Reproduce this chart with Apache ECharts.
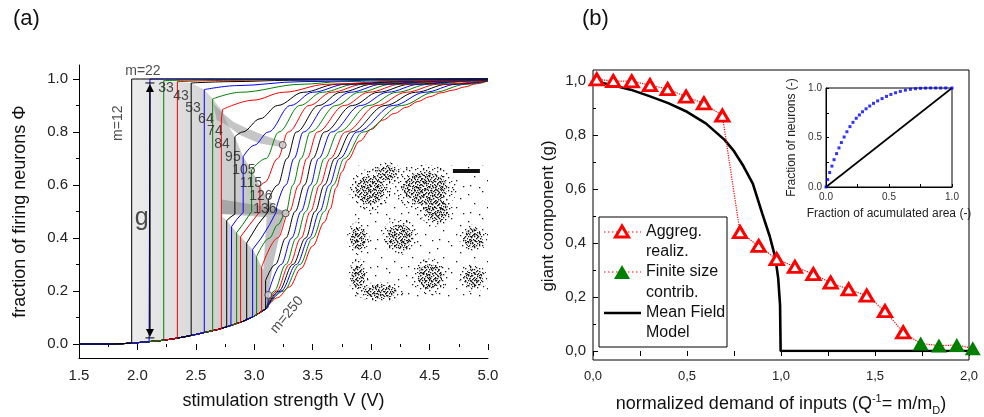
<!DOCTYPE html>
<html>
<head>
<meta charset="utf-8">
<script src="https://cdn.jsdelivr.net/npm/echarts/dist/echarts.min.js"></script>
<style>
  html, body { margin: 0; padding: 0; background: #fff; }
  #chart { width: 984px; height: 417px; }
</style>
</head>
<body>
<div id="chart"></div>
<script>
const FONT = '"Liberation Sans", Arial, Helvetica, sans-serif';

// ---------- panel (a): firing fraction vs stimulation ----------
const CURVE_M = [12, 22, 33, 43, 53, 64, 74, 84, 95, 105, 115, 126, 136, 146, 157, 167, 177, 188, 198, 208, 219, 229, 240, 250];
const CURVE_COLORS = ['#000000', '#0000ff', '#008000', '#ff0000'];

// common lower branch before the jumps
const BASE = [[1.5, 0], [1.8, 0], [1.9, 0.002], [2.0, 0.005], [2.1, 0.009], [2.2, 0.013], [2.3, 0.019], [2.4, 0.027], [2.5, 0.036], [2.6, 0.046], [2.7, 0.056], [2.8, 0.07], [2.9, 0.085], [3.0, 0.105], [3.1, 0.133]];

// jump segments of each curve (straight pieces), [V, phi]
const STEPS = [
  [[1.951, 0.0035], [1.951, 1.0]],
  [[2.107, 0.009], [2.107, 1.0]],
  [[2.225, 0.014], [2.225, 0.994]],
  [[2.342, 0.021], [2.342, 0.99]],
  [[2.46, 0.032], [2.46, 0.985]],
  [[2.572, 0.043], [2.572, 0.96]],
  [[2.644, 0.052], [2.644, 0.925]],
  [[2.718, 0.056], [2.718, 0.845], [2.728, 0.85], [2.728, 0.885]],
  [[2.764, 0.065], [2.764, 0.466], [2.8, 0.48], [2.834, 0.49], [2.834, 0.782]],
  [[2.806, 0.071], [2.806, 0.443], [2.85, 0.47], [2.905, 0.497], [2.905, 0.707]],
  [[2.849, 0.077], [2.849, 0.42], [2.9, 0.45], [2.977, 0.5], [2.977, 0.657]],
  [[2.883, 0.082], [2.883, 0.405], [2.96, 0.45], [3.048, 0.5], [3.048, 0.594]],
  [[2.935, 0.092], [2.935, 0.381], [3.03, 0.45], [3.12, 0.5], [3.12, 0.543]],
  [[2.986, 0.102], [2.986, 0.357], [3.06, 0.4], [3.13, 0.45], [3.19, 0.5], [3.19, 0.515]],
  [[3.02, 0.11], [3.02, 0.33]],
  [[3.063, 0.122], [3.063, 0.29]],
  [[3.097, 0.132], [3.097, 0.24]],
  [[3.118, 0.138], [3.118, 0.19]],
  [], [], [], [], [], []
];

// smooth upper branch of each curve, [V, phi]
const RISE = [
  [[5.0, 1.0]],
  [[5.0, 1.0]],
  [[2.7, 0.997], [5.0, 1.0]],
  [[2.8, 0.995], [3.3, 0.998], [5.0, 1.0]],
  [[2.8, 0.99], [3.3, 0.995], [4.0, 0.998], [5.0, 1.0]],
  [[2.85, 0.975], [3.4, 0.99], [4.2, 0.997], [5.0, 1.0]],
  [[2.88, 0.95], [3.4, 0.98], [3.75, 0.99], [4.4, 0.997], [5.0, 1.0]],
  [[2.99, 0.92], [3.25, 0.95], [3.62, 0.98], [4.3, 0.994], [5.0, 1.0]],
  [[2.9, 0.8], [3.05, 0.85], [3.2, 0.9], [3.42, 0.95], [3.7, 0.98], [4.4, 0.994], [5.0, 1.0]],
  [[3.0, 0.75], [3.12, 0.8], [3.31, 0.9], [3.5, 0.95], [3.78, 0.98], [4.45, 0.994], [5.0, 1.0]],
  [[3.1, 0.7], [3.21, 0.8], [3.39, 0.9], [3.58, 0.95], [3.86, 0.98], [4.5, 0.994], [5.0, 1.0]],
  [[3.09, 0.61], [3.2, 0.7], [3.29, 0.8], [3.47, 0.9], [3.66, 0.95], [3.93, 0.98], [4.55, 0.994], [5.0, 0.999]],
  [[3.2, 0.6], [3.28, 0.7], [3.36, 0.8], [3.55, 0.9], [3.74, 0.95], [4.01, 0.98], [4.6, 0.994], [5.0, 0.998]],
  [[3.27, 0.6], [3.34, 0.7], [3.42, 0.8], [3.62, 0.9], [3.82, 0.95], [4.09, 0.98], [4.65, 0.993], [5.0, 0.998]],
  [[3.13, 0.4], [3.2, 0.45], [3.268, 0.493], [3.33, 0.6], [3.4, 0.7], [3.48, 0.8], [3.7, 0.9], [3.9, 0.95], [4.17, 0.98], [4.7, 0.993], [5.0, 0.997]],
  [[3.2, 0.4], [3.3, 0.5], [3.38, 0.6], [3.45, 0.7], [3.54, 0.8], [3.77, 0.9], [3.98, 0.95], [4.25, 0.98], [4.75, 0.993], [5.0, 0.997]],
  [[3.18, 0.3], [3.27, 0.4], [3.35, 0.5], [3.43, 0.6], [3.5, 0.7], [3.6, 0.8], [3.84, 0.9], [4.06, 0.95], [4.33, 0.98], [4.8, 0.993], [5.0, 0.996]],
  [[3.23, 0.3], [3.32, 0.4], [3.4, 0.5], [3.48, 0.6], [3.55, 0.7], [3.66, 0.8], [3.91, 0.9], [4.14, 0.95], [4.41, 0.98], [4.85, 0.993], [5.0, 0.996]],
  [[3.17, 0.2], [3.27, 0.3], [3.36, 0.4], [3.44, 0.5], [3.52, 0.6], [3.6, 0.7], [3.72, 0.8], [3.98, 0.9], [4.22, 0.95], [4.49, 0.98], [4.9, 0.993], [5.0, 0.995]],
  [[3.19, 0.2], [3.3, 0.3], [3.4, 0.4], [3.48, 0.5], [3.56, 0.6], [3.65, 0.7], [3.78, 0.8], [4.05, 0.9], [4.3, 0.95], [4.57, 0.98], [5.0, 0.994]],
  [[3.21, 0.2], [3.33, 0.3], [3.44, 0.4], [3.52, 0.5], [3.6, 0.6], [3.69, 0.7], [3.83, 0.8], [4.12, 0.9], [4.38, 0.95], [4.65, 0.98], [5.0, 0.994]],
  [[3.23, 0.2], [3.36, 0.3], [3.47, 0.4], [3.56, 0.5], [3.64, 0.6], [3.73, 0.7], [3.88, 0.8], [4.19, 0.9], [4.46, 0.95], [4.73, 0.98], [5.0, 0.993]],
  [[3.25, 0.2], [3.39, 0.3], [3.5, 0.4], [3.6, 0.5], [3.675, 0.6], [3.77, 0.7], [3.93, 0.8], [4.26, 0.9], [4.54, 0.95], [4.81, 0.98], [5.0, 0.993]],
  [[3.2, 0.175], [3.3, 0.215], [3.4, 0.285], [3.5, 0.37], [3.6, 0.46], [3.65, 0.51], [3.7, 0.59], [3.75, 0.65], [3.8, 0.695], [3.9, 0.765], [4.0, 0.81], [4.1, 0.845], [4.2, 0.87], [4.3, 0.893], [4.4, 0.915], [4.5, 0.933], [4.6, 0.948], [4.7, 0.958], [4.8, 0.97], [4.9, 0.982], [5.0, 0.993]]
];

// shaded area swept by the jumps, the open gap and the darker bands
const GRAY_ZONE = [[1.951, 0.0035], [1.951, 1.0], [2.107, 1.0], [2.225, 0.994], [2.342, 0.99], [2.46, 0.985], [2.572, 0.96], [2.644, 0.925], [2.718, 0.885], [2.77, 0.83], [2.834, 0.782], [2.905, 0.707], [2.977, 0.657], [3.048, 0.594], [3.12, 0.543], [3.19, 0.515], [3.268, 0.493], [3.21, 0.4], [3.16, 0.3], [3.12, 0.19], [3.118, 0.138], [3.1, 0.133], [3.0, 0.105], [2.9, 0.085], [2.8, 0.07], [2.7, 0.056], [2.6, 0.046], [2.5, 0.036], [2.4, 0.027], [2.3, 0.019], [2.2, 0.013], [2.1, 0.009], [2.0, 0.005]];
const OPEN_GAP = [[2.728, 0.49], [3.106, 0.478], [3.077, 0.279], [3.063, 0.29], [3.02, 0.33], [2.986, 0.357], [2.935, 0.381], [2.883, 0.405], [2.849, 0.42], [2.806, 0.443], [2.764, 0.466], [2.728, 0.48]];
const BAND_1 = [[2.649, 0.908], [2.735, 0.87], [2.82, 0.839], [2.934, 0.814], [3.077, 0.789], [3.243, 0.763], [3.243, 0.742], [3.048, 0.757], [2.877, 0.789], [2.763, 0.826], [2.678, 0.845]];
const BAND_2 = [[2.72, 0.545], [2.99, 0.526], [3.268, 0.503], [3.268, 0.489], [2.72, 0.491]];
const MARK_CIRCLES = [[3.243, 0.751], [3.268, 0.493], [3.12, 0.185]];

// giant-component arrow
const ARROW_V = 2.107;
const ARROW_SPAN = [0.023, 0.985];

// annotations
const LABEL_TEXT = ['m=22', '33', '43', '53', '64', '74', '84', '95', '105', '115', '126', '136', 'm=12', 'm=250', 'g'];
const LABEL_V    = [2.047, 2.244, 2.373, 2.475, 2.586, 2.663, 2.723, 2.817, 2.911, 2.971, 3.057, 3.091, 1.836, 3.28, 2.036];
const LABEL_PHI  = [1.03, 0.966, 0.936, 0.89, 0.849, 0.804, 0.755, 0.706, 0.657, 0.608, 0.558, 0.509, 0.833, 0.11, 0.475];

// culture snapshot: neuron clusters in a unit square (centre, radii)
const BLOB_U  = [0.126, 0.25, 0.533, 0.62, 0.348, 0.039, 0.891, 0.57, 0.891, 0.039, 0.2];
const BLOB_V  = [0.812, 0.938, 0.825, 0.662, 0.461, 0.449, 0.449, 0.16, 0.148, 0.16, 0.047];
const BLOB_RX = [0.111, 0.08, 0.17, 0.09, 0.096, 0.06, 0.074, 0.096, 0.074, 0.052, 0.126];
const BLOB_RY = [0.113, 0.06, 0.128, 0.09, 0.098, 0.09, 0.075, 0.098, 0.075, 0.098, 0.053];
const SCALE_BAR = [0.74, 0.94, 0.94, 0.97];

// ---------- panel (b): giant component vs demand ----------
const AGG_X = [0.02, 0.108, 0.206, 0.303, 0.397, 0.495, 0.59, 0.688, 0.782, 0.881, 0.977, 1.074, 1.172, 1.264, 1.36, 1.456, 1.553, 1.65];
const AGG_G = [1.006, 1.0, 0.999, 0.985, 0.97, 0.942, 0.917, 0.872, 0.44, 0.389, 0.34, 0.312, 0.285, 0.253, 0.228, 0.205, 0.148, 0.069];
const FIN_X = [1.743, 1.84, 1.935, 2.02];
const FIN_G = [0.028, 0.02, 0.022, 0.01];
const MF_X = [0, 0.1, 0.2, 0.3, 0.4, 0.5, 0.6, 0.7, 0.75, 0.8, 0.85, 0.9, 0.94, 0.97, 0.985, 0.995, 0.998, 2.0];
const MF_G = [1.0, 0.985, 0.968, 0.944, 0.918, 0.886, 0.843, 0.782, 0.74, 0.685, 0.62, 0.51, 0.425, 0.345, 0.27, 0.17, 0.0, 0.0];

// inset: cumulative neurons vs cumulative area
const LZ_X = [0, 0.013, 0.029, 0.047, 0.064, 0.084, 0.103, 0.122, 0.144, 0.166, 0.19, 0.214, 0.24, 0.265, 0.29, 0.318, 0.347, 0.377, 0.41, 0.445, 0.48, 0.515, 0.552, 0.59, 0.63, 0.67, 0.71, 0.75, 0.79, 0.83, 0.87, 0.91, 0.95, 1.0];
const LZ_Y = [0, 0.075, 0.146, 0.211, 0.276, 0.337, 0.395, 0.449, 0.505, 0.558, 0.61, 0.653, 0.694, 0.728, 0.76, 0.79, 0.818, 0.845, 0.87, 0.893, 0.915, 0.935, 0.952, 0.966, 0.978, 0.987, 0.993, 0.997, 0.999, 1.0, 1.0, 1.0, 1.0, 1.0];
const DIAG = [[0, 0], [1, 1]];

const zip = (a, b) => a.map((v, i) => [v, b[i]]);
const comma = v => v.toFixed(1).replace('.', ',');

// dotted texture tiles for the culture snapshot (tile width, height, dot offsets)
const DOTS_DENSE = [[0, 0], [4, 0], [9, 1], [11, 0], [2, 1], [6, 2], [12, 3], [1, 3], [8, 3], [4, 4], [10, 5], [0, 5], [6, 5], [3, 6], [12, 7], [8, 7], [1, 8], [5, 8], [10, 9], [3, 9], [7, 10], [0, 10], [12, 10], [9, 6], [5, 3], [2, 5], [11, 2], [6, 9]];
const DOTS_MID = [[1, 1], [7, 0], [12, 2], [15, 0], [4, 4], [10, 5], [16, 6], [0, 7], [6, 8], [13, 9], [3, 11], [9, 12], [15, 12], [11, 7]];
const DOTS_SPARSE = [[3, 5], [17, 2], [26, 9], [9, 14], [22, 18], [5, 23], [14, 25], [29, 24]];
function dotTile(w, h, dots) {
  const c = document.createElement('canvas');
  c.width = w; c.height = h;
  const g = c.getContext('2d');
  g.fillStyle = '#1a1a1a';
  dots.forEach(d => g.fillRect(d[0], d[1], 1.3, 1.3));
  return { image: c, repeat: 'repeat' };
}
const PAT_DENSE = dotTile(13, 11, DOTS_DENSE);
const PAT_MID = dotTile(17, 13, DOTS_MID);
const PAT_SPARSE = dotTile(31, 27, DOTS_SPARSE);

function ellipsePts(cx, cy, rx, ry) {
  const pts = [];
  for (let k = 0; k < 32; k++) {
    const t = (k / 32) * Math.PI * 2;
    pts.push([cx + rx * Math.cos(t), cy + ry * Math.sin(t)]);
  }
  return pts;
}

function polygonSeries(points, fill, z) {
  return {
    type: 'custom', xAxisIndex: 0, yAxisIndex: 0, z, silent: true, clip: false,
    data: [[points[0][0], points[0][1]]],
    renderItem: (params, api) => ({
      type: 'polygon',
      shape: { points: points.map(p => api.coord(p)) },
      style: { fill, stroke: null }
    })
  };
}

const series = [];

series.push(polygonSeries(GRAY_ZONE, new echarts.graphic.LinearGradient(0, 0, 1, 0, [
  { offset: 0, color: '#ededed' }, { offset: 1, color: '#bcbcbc' }
]), 1));
series.push(polygonSeries(OPEN_GAP, '#ffffff', 1.5));
series.push(polygonSeries(BAND_1, 'rgba(140,140,140,0.5)', 2));
series.push(polygonSeries(BAND_2, 'rgba(140,140,140,0.6)', 2));

// the family of response curves; drawn from the largest m down so that the
// shared lower branch shows the colour of the curve that leaves it last
for (let i = CURVE_M.length - 1; i >= 0; i--) {
  const color = CURVE_COLORS[i % 4];
  const steps = STEPS[i];
  const lower = steps.length ? BASE.filter(p => p[0] < steps[0][0]).concat(steps) : BASE.slice();
  const upper = [lower[lower.length - 1]].concat(RISE[i]);
  const common = { type: 'line', xAxisIndex: 0, yAxisIndex: 0, symbol: 'none', silent: true, clip: false,
    lineStyle: { color, width: 1 }, z: 3 };
  series.push(Object.assign({ name: 'm=' + CURVE_M[i], data: lower }, common));
  series.push(Object.assign({ name: 'm=' + CURVE_M[i] + ' rise', data: upper, smooth: 0.35, smoothMonotone: 'x' }, common));
}

// open circles at the band ends
series.push({
  type: 'scatter', xAxisIndex: 0, yAxisIndex: 0, z: 6, silent: true,
  data: MARK_CIRCLES, symbol: 'circle', symbolSize: 7,
  itemStyle: { color: '#cfcfcf', borderColor: '#333', borderWidth: 1 }
});

// double-headed arrow marking g
series.push({
  type: 'custom', xAxisIndex: 0, yAxisIndex: 0, z: 7, silent: true, clip: false,
  data: [[ARROW_V, ARROW_SPAN[1]]],
  renderItem: (params, api) => {
    const t = api.coord([ARROW_V, ARROW_SPAN[1]]);
    const b = api.coord([ARROW_V, ARROW_SPAN[0]]);
    const x = t[0];
    return {
      type: 'group', children: [
        { type: 'line', shape: { x1: x, y1: t[1] + 6, x2: x, y2: b[1] - 6 }, style: { stroke: '#000', lineWidth: 1.3 } },
        { type: 'polygon', shape: { points: [[x, t[1] + 1], [x - 4, t[1] + 9], [x + 4, t[1] + 9]] }, style: { fill: '#000' } },
        { type: 'line', shape: { x1: x - 4.5, y1: t[1], x2: x + 4.5, y2: t[1] }, style: { stroke: '#000', lineWidth: 1 } },
        { type: 'polygon', shape: { points: [[x, b[1] - 1], [x - 4, b[1] - 9], [x + 4, b[1] - 9]] }, style: { fill: '#000' } },
        { type: 'line', shape: { x1: x - 4.5, y1: b[1], x2: x + 4.5, y2: b[1] }, style: { stroke: '#000', lineWidth: 1 } }
      ]
    };
  }
});

// text annotations
series.push({
  type: 'scatter', xAxisIndex: 0, yAxisIndex: 0, z: 8, silent: true, clip: false,
  symbolSize: 0,
  data: LABEL_TEXT.map((txt, i) => {
    const item = { name: txt, value: [LABEL_V[i], LABEL_PHI[i]] };
    if (txt === 'm=12') item.label = { rotate: 90 };
    if (txt === 'm=250') item.label = { rotate: 50 };
    if (txt === 'g') item.label = { fontSize: 25 };
    return item;
  }),
  label: { show: true, position: 'inside', formatter: '{b}', fontSize: 14, color: '#222', fontFamily: FONT }
});

// culture snapshot
series.push({
  type: 'custom', xAxisIndex: 5, yAxisIndex: 5, z: 5, silent: true, clip: false,
  data: [[0.5, 0.5]],
  renderItem: (params, api) => {
    const o = api.coord([0, 0]);
    const e = api.coord([1, 1]);
    const sx = e[0] - o[0], sy = o[1] - e[1];
    const kids = [{ type: 'rect', shape: { x: o[0], y: e[1], width: sx, height: sy }, style: { fill: PAT_SPARSE } }];
    BLOB_U.forEach((u, i) => {
      const c = api.coord([u, BLOB_V[i]]);
      const rx = BLOB_RX[i] * sx, ry = BLOB_RY[i] * sy;
      kids.push({ type: 'polygon', shape: { points: ellipsePts(c[0], c[1], rx * 1.4, ry * 1.4) }, style: { fill: PAT_MID } });
      kids.push({ type: 'polygon', shape: { points: ellipsePts(c[0], c[1], rx * 0.95, ry * 0.95) }, style: { fill: PAT_DENSE } });
      kids.push({ type: 'polygon', shape: { points: ellipsePts(c[0], c[1], rx * 0.55, ry * 0.55) }, style: { fill: PAT_MID } });
    });
    const b0 = api.coord([SCALE_BAR[0], SCALE_BAR[3]]);
    const b1 = api.coord([SCALE_BAR[1], SCALE_BAR[2]]);
    kids.push({ type: 'rect', shape: { x: b0[0], y: b0[1], width: b1[0] - b0[0], height: b1[1] - b0[1] }, style: { fill: '#111' } });
    return { type: 'group', children: kids };
  }
});

// panel (b) series
series.push({
  name: 'Mean Field Model', type: 'line', xAxisIndex: 2, yAxisIndex: 2, z: 4,
  data: zip(MF_X, MF_G), symbol: 'none', lineStyle: { color: '#000', width: 2.6 }
});
series.push({
  name: 'Aggreg. realiz.', type: 'line', xAxisIndex: 2, yAxisIndex: 2, z: 5, clip: false,
  data: zip(AGG_X, AGG_G), symbol: 'triangle', symbolSize: [13, 11], showSymbol: true,
  itemStyle: { color: '#fff', borderColor: '#ff0000', borderWidth: 3 },
  lineStyle: { color: '#ff0000', width: 1.2, type: 'dotted' }
});
series.push({
  name: 'Finite size contrib.', type: 'line', xAxisIndex: 2, yAxisIndex: 2, z: 5, clip: false,
  data: [{ value: [AGG_X[AGG_X.length - 1], AGG_G[AGG_G.length - 1]], symbol: 'none' }].concat(zip(FIN_X, FIN_G)),
  symbol: 'triangle', symbolSize: [16, 14], showSymbol: true,
  itemStyle: { color: '#008000' },
  lineStyle: { color: '#ff0000', width: 1.2, type: 'dotted' }
});
series.push({
  type: 'line', xAxisIndex: 4, yAxisIndex: 4, z: 5, data: DIAG, symbol: 'none',
  lineStyle: { color: '#000', width: 1.6 }
});
series.push({
  type: 'scatter', xAxisIndex: 4, yAxisIndex: 4, z: 6, clip: false,
  data: zip(LZ_X, LZ_Y), symbol: 'rect', symbolSize: 3, itemStyle: { color: '#0000ff' }
});

const tickLabel = { fontFamily: FONT, color: '#222' };
const chart = echarts.init(document.getElementById('chart'), null, { renderer: 'canvas' });
chart.setOption({
  animation: false,
  backgroundColor: '#fff',
  textStyle: { fontFamily: FONT },
  title: [
    { text: '(a)', left: 8, top: 3, textStyle: { fontSize: 22, fontWeight: 'normal', color: '#111', fontFamily: FONT } },
    { text: '(b)', left: 577, top: 3, textStyle: { fontSize: 22, fontWeight: 'normal', color: '#111', fontFamily: FONT } }
  ],
  grid: [
    { left: 79, top: 79, width: 409, height: 265, containLabel: false, outerBoundsMode: 'none' },
    { left: 79, top: 65, width: 409, height: 293, containLabel: false, outerBoundsMode: 'none' },
    { left: 593, top: 81, width: 376, height: 270, containLabel: false, outerBoundsMode: 'none' },
    { left: 593, top: 70, width: 376, height: 290, show: true, borderColor: '#000', borderWidth: 1, backgroundColor: 'transparent', containLabel: false, outerBoundsMode: 'none' },
    { left: 826, top: 88, width: 126, height: 99, show: true, borderColor: '#000', borderWidth: 1, backgroundColor: '#fff', containLabel: false, outerBoundsMode: 'none' },
    { left: 353, top: 165, width: 135, height: 133, containLabel: false, outerBoundsMode: 'none' }
  ],
  xAxis: [
    { gridIndex: 0, type: 'value', min: 1.5, max: 5.0, interval: 0.5, offset: 14,
      axisLine: { show: false }, splitLine: { show: false },
      axisTick: { inside: false, length: 6, lineStyle: { color: '#000' } },
      minorTick: { show: true, splitNumber: 2, length: 3, lineStyle: { color: '#000' } },
      axisLabel: Object.assign({ fontSize: 15, margin: 10, formatter: v => v.toFixed(1) }, tickLabel),
      name: 'stimulation strength V (V)', nameLocation: 'middle', nameGap: 34, nameMoveOverlap: false,
      nameTextStyle: { fontSize: 18, color: '#111', fontFamily: FONT } },
    { gridIndex: 1, type: 'value', min: 0, max: 1, axisLine: { show: true, lineStyle: { color: '#000', width: 1 } },
      axisTick: { show: false }, axisLabel: { show: false }, splitLine: { show: false } },
    { gridIndex: 2, type: 'value', min: 0, max: 2, interval: 0.5, offset: 9,
      axisLine: { show: false }, splitLine: { show: false },
      axisTick: { inside: false, length: 5, lineStyle: { color: '#000' } },
      minorTick: { show: true, splitNumber: 2, length: 5, lineStyle: { color: '#000' } },
      axisLabel: Object.assign({ fontSize: 13, margin: 10, formatter: comma }, tickLabel),
      name: 'normalized demand of inputs (Q{sup|-1}= m/m{sub|D})', nameLocation: 'middle', nameGap: 33, nameMoveOverlap: false,
      nameTextStyle: { fontSize: 18, color: '#111', fontFamily: FONT,
        rich: { sup: { fontSize: 11, padding: [0, 0, 12, 0], fontFamily: FONT, color: '#111' },
                sub: { fontSize: 11, padding: [12, 0, 0, 0], fontFamily: FONT, color: '#111' } } } },
    { gridIndex: 3, type: 'value', min: 0, max: 1, show: false },
    { gridIndex: 4, type: 'value', min: 0, max: 1, interval: 0.5,
      axisLine: { show: true, lineStyle: { color: '#000' } }, splitLine: { show: false },
      axisTick: { inside: true, length: 3, lineStyle: { color: '#000' } },
      minorTick: { show: true, splitNumber: 2, length: 3, lineStyle: { color: '#000' } },
      axisLabel: { fontSize: 10, margin: 5, color: '#333', fontFamily: FONT, formatter: v => v.toFixed(1) },
      name: 'Fraction of acumulated area (-)', nameLocation: 'middle', nameGap: 21, nameMoveOverlap: false,
      nameTextStyle: { fontSize: 12, color: '#222', fontFamily: FONT } },
    { gridIndex: 5, type: 'value', min: 0, max: 1, show: false }
  ],
  yAxis: [
    { gridIndex: 0, type: 'value', min: 0, max: 1, interval: 0.2,
      axisLine: { show: false }, splitLine: { show: false },
      axisTick: { inside: false, length: 6, lineStyle: { color: '#000' } },
      minorTick: { show: true, splitNumber: 2, length: 3, lineStyle: { color: '#000' } },
      axisLabel: Object.assign({ fontSize: 15, margin: 11, formatter: v => v.toFixed(1) }, tickLabel),
      name: 'fraction of firing neurons Φ', nameLocation: 'middle', nameGap: 50, nameMoveOverlap: false,
      nameTextStyle: { fontSize: 18, color: '#111', fontFamily: FONT } },
    { gridIndex: 1, type: 'value', min: 0, max: 1, axisLine: { show: true, lineStyle: { color: '#000', width: 1 } },
      axisTick: { show: false }, axisLabel: { show: false }, splitLine: { show: false } },
    { gridIndex: 2, type: 'value', min: 0, max: 1, interval: 0.2,
      axisLine: { show: false }, splitLine: { show: false },
      axisTick: { inside: true, length: 5, lineStyle: { color: '#000' } },
      minorTick: { show: true, splitNumber: 2, length: 3, lineStyle: { color: '#000' } },
      axisLabel: Object.assign({ fontSize: 15, margin: 7, formatter: comma }, tickLabel),
      name: 'giant component (g)', nameLocation: 'middle', nameGap: 36, nameMoveOverlap: false,
      nameTextStyle: { fontSize: 17, color: '#111', fontFamily: FONT } },
    { gridIndex: 3, type: 'value', min: 0, max: 1, show: false },
    { gridIndex: 4, type: 'value', min: 0, max: 1, interval: 0.5,
      axisLine: { show: true, lineStyle: { color: '#000' } }, splitLine: { show: false },
      axisTick: { inside: true, length: 3, lineStyle: { color: '#000' } },
      minorTick: { show: true, splitNumber: 2, length: 3, lineStyle: { color: '#000' } },
      axisLabel: { fontSize: 10, margin: 4, color: '#333', fontFamily: FONT, formatter: v => v.toFixed(1) },
      name: 'Fraction of neurons (-)', nameLocation: 'middle', nameGap: 28, nameMoveOverlap: false,
      nameTextStyle: { fontSize: 12, color: '#222', fontFamily: FONT } },
    { gridIndex: 5, type: 'value', min: 0, max: 1, show: false }
  ],
  graphic: [
    { type: 'rect', z: 20, shape: { x: 599, y: 217, width: 128, height: 130 }, style: { fill: '#fff', stroke: '#000', lineWidth: 1 } },
    { type: 'line', z: 21, shape: { x1: 604, y1: 232, x2: 641, y2: 232 }, style: { stroke: '#ff0000', lineWidth: 1.2, lineDash: [1.5, 2.5] } },
    { type: 'polygon', z: 22, shape: { points: [[622, 226], [615.5, 237], [628.5, 237]] }, style: { fill: '#fff', stroke: '#ff0000', lineWidth: 3 } },
    { type: 'text', z: 22, x: 646, y: 232, style: { text: 'Aggreg.', fontSize: 16, fontFamily: FONT, fill: '#111', verticalAlign: 'middle' } },
    { type: 'text', z: 22, x: 646, y: 252, style: { text: 'realiz.', fontSize: 16, fontFamily: FONT, fill: '#111', verticalAlign: 'middle' } },
    { type: 'line', z: 21, shape: { x1: 604, y1: 272, x2: 641, y2: 272 }, style: { stroke: '#ff0000', lineWidth: 1.2, lineDash: [1.5, 2.5] } },
    { type: 'polygon', z: 22, shape: { points: [[622, 265], [614, 279], [630, 279]] }, style: { fill: '#008000' } },
    { type: 'text', z: 22, x: 646, y: 272, style: { text: 'Finite size', fontSize: 16, fontFamily: FONT, fill: '#111', verticalAlign: 'middle' } },
    { type: 'text', z: 22, x: 646, y: 293, style: { text: 'contrib.', fontSize: 16, fontFamily: FONT, fill: '#111', verticalAlign: 'middle' } },
    { type: 'line', z: 21, shape: { x1: 604, y1: 313, x2: 641, y2: 313 }, style: { stroke: '#000', lineWidth: 2.6 } },
    { type: 'text', z: 22, x: 646, y: 313, style: { text: 'Mean Field', fontSize: 16, fontFamily: FONT, fill: '#111', verticalAlign: 'middle' } },
    { type: 'text', z: 22, x: 646, y: 333, style: { text: 'Model', fontSize: 16, fontFamily: FONT, fill: '#111', verticalAlign: 'middle' } }
  ],
  series
});
</script>
</body>
</html>
